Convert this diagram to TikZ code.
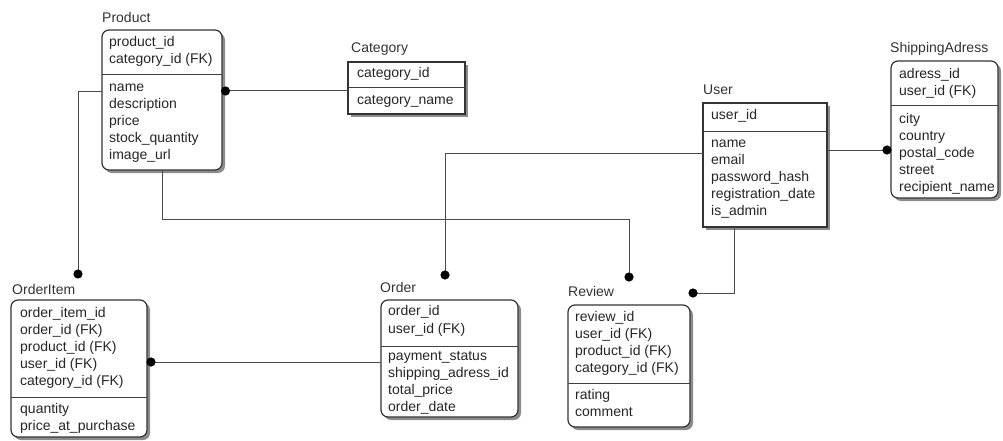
\documentclass[tikz,border=0pt]{standalone}
\usepackage{fontspec}
\setmainfont{Liberation Sans}
\usetikzlibrary{shadows}

% one column of attribute names, one node per row
\newcommand\fieldlist[5]{%
  \foreach \f [count=\k] in {#5} {%
    \node[field] (#1-\k) at (#2,{#3+(\k-1)*#4}) {\f};}}

\begin{document}
\begin{tikzpicture}[x=1pt,y=-1pt,
  txt/.style={font=\fontsize{14}{16}\selectfont},
  field/.style={txt,anchor=mid west,inner sep=0pt,text=black!85},
  etitle/.style={txt,anchor=mid west,inner sep=0pt,text=black!80},
  ebox/.style={draw=black!80,line width=1.2pt,fill=white,inner sep=0pt,outer sep=0pt,
    drop shadow={shadow xshift=3pt,shadow yshift=-3pt,fill=black!45,opacity=1}},
  weak/.style={rounded corners=7pt},
  divider/.style={draw=black!75,line width=1pt},
  conn/.style={draw=black!70,line width=1pt},
  dot/.style={fill=black},
]
\useasboundingbox (0,0) rectangle (1003,441);

% entity boxes
\node[ebox,weak,minimum width=120pt,minimum height=140pt] (product) at (162,100) {};
\node[ebox,minimum width=117pt,minimum height=52pt] (category) at (406.5,88) {};
\node[ebox,minimum width=124pt,minimum height=124pt] (user) at (765,165) {};
\node[ebox,weak,minimum width=107pt,minimum height=137pt] (ship) at (944.5,129.5) {};
\node[ebox,weak,minimum width=136pt,minimum height=137pt] (orderitem) at (79,368.5) {};
\node[ebox,weak,minimum width=137pt,minimum height=117pt] (order) at (449.5,358.5) {};
\node[ebox,weak,minimum width=122pt,minimum height=122pt] (review) at (629,366) {};

% key / attribute separators
\draw[divider] (product.west |- 0,75) -- (product.east |- 0,75);
\draw[divider] (category.west |- 0,88) -- (category.east |- 0,88);
\draw[divider] (user.west |- 0,131) -- (user.east |- 0,131);
\draw[divider] (ship.west |- 0,106) -- (ship.east |- 0,106);
\draw[divider] (orderitem.west |- 0,397) -- (orderitem.east |- 0,397);
\draw[divider] (order.west |- 0,346) -- (order.east |- 0,346);
\draw[divider] (review.west |- 0,383) -- (review.east |- 0,383);

% entity names
\node[etitle] (product-t) at (102,20) {Product};
\node[etitle] (category-t) at (351,50) {Category};
\node[etitle] (user-t) at (703,92) {User};
\node[etitle] (ship-t) at (890,50) {ShippingAdress};
\node[etitle] (orderitem-t) at (12,292) {OrderItem};
\node[etitle] (order-t) at (380,290) {Order};
\node[etitle] (review-t) at (568,294) {Review};

% fields
\fieldlist{product-k}{109}{44}{16.9}{product\_id,category\_id (FK)}
\fieldlist{product-a}{109}{89}{16.9}{name,description,price,stock\_quantity,image\_url}
\fieldlist{category-k}{357}{75}{16.9}{category\_id}
\fieldlist{category-a}{357}{102}{16.9}{category\_name}
\fieldlist{user-k}{711}{117}{16.9}{user\_id}
\fieldlist{user-a}{711}{145}{17}{name,email,password\_hash,registration\_date,is\_admin}
\fieldlist{ship-k}{899}{76}{17}{adress\_id,user\_id (FK)}
\fieldlist{ship-a}{899}{121}{17}{city,country,postal\_code,street,recipient\_name}
\fieldlist{orderitem-k}{20}{315}{17}{order\_item\_id,order\_id (FK),product\_id (FK),user\_id (FK),category\_id (FK)}
\fieldlist{orderitem-a}{20}{411}{17}{quantity,price\_at\_purchase}
\fieldlist{order-k}{388}{313}{17.5}{order\_id,user\_id (FK)}
\fieldlist{order-a}{388}{358}{17}{payment\_status,shipping\_adress\_id,total\_price,order\_date}
\fieldlist{review-k}{575}{319}{17}{review\_id,user\_id (FK),product\_id (FK),category\_id (FK)}
\fieldlist{review-a}{575}{397}{17}{rating,comment}

% free connector ends
\coordinate (oiend) at (78,274);
\coordinate (ordend) at (445,275);
\coordinate (revtop) at (629,277);
\coordinate (revside) at (693,293);
\coordinate (pcat) at (product.east |- 0,91);
\coordinate (ushp) at (ship.west |- 0,150);
\coordinate (oiord) at (orderitem.east |- 0,362);

% relationships
\draw[conn] (pcat) -- (category.west |- pcat);
\draw[conn] (product.west |- 0,92) -| (oiend);
\draw[conn] (user.west |- 0,153) -| (ordend);
\draw[conn] (user.east |- ushp) -- (ushp);
\draw[conn] (product.south -| 162,0) |- (revtop |- 0,219) -- (revtop);
\draw[conn] (user.south -| 734,0) |- (revside);
\draw[conn] (oiord) -- (order.west |- oiord);

% relationship end markers
\fill[dot] ([xshift=3.5pt]pcat) circle (4.6pt);
\fill[dot] (oiend) circle (4.6pt);
\fill[dot] (ordend) circle (4.6pt);
\fill[dot] (revtop) circle (4.6pt);
\fill[dot] (revside) circle (4.6pt);
\fill[dot] ([xshift=-4pt]ushp) circle (4.6pt);
\fill[dot] ([xshift=4pt]oiord) circle (4.6pt);
\end{tikzpicture}
\end{document}
